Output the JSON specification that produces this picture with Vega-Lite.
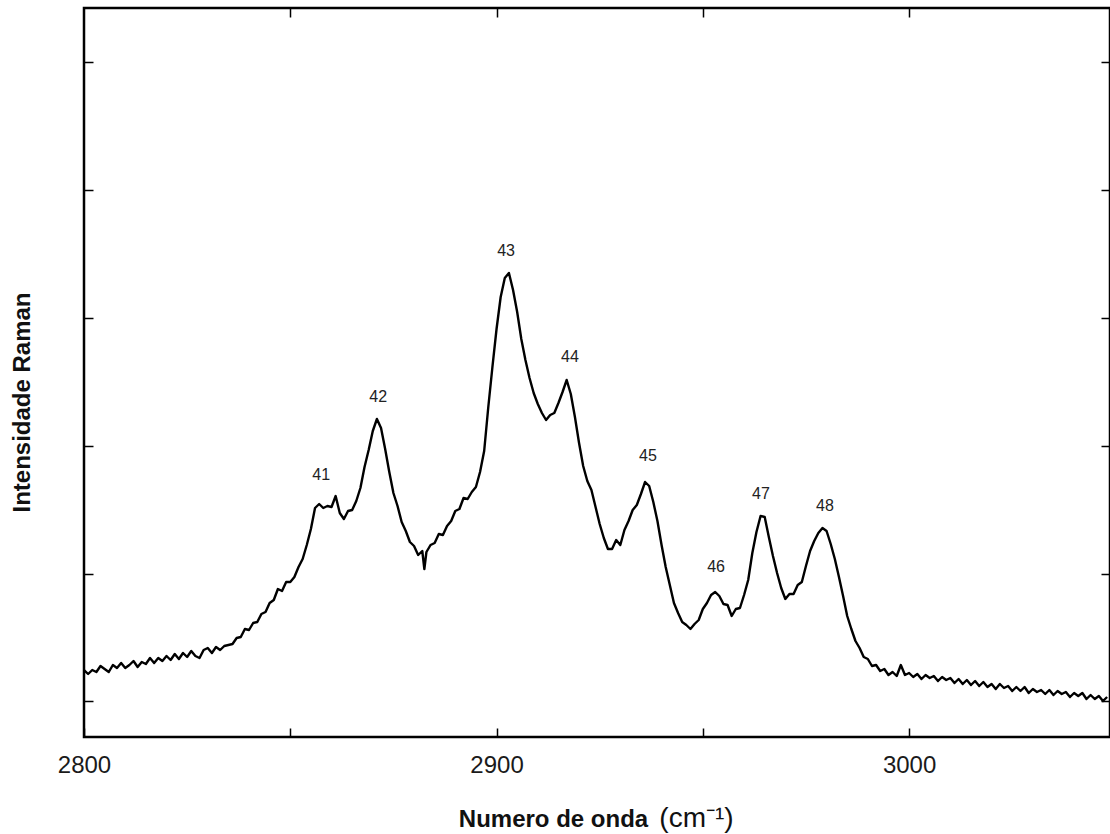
{
  "$schema": "https://vega.github.io/schema/vega-lite/v6.json",
  "width": 1026,
  "height": 729,
  "autosize": "none",
  "padding": {"left": 84, "top": 8, "right": 0, "bottom": 97},
  "background": "white",
  "config": {"view": {"stroke": "black", "strokeWidth": 2.5}, "font": "Liberation Sans"},
  "datasets": {
    "spec": [
      {"w":2800,"y":67},{"w":2801,"y":63},{"w":2802,"y":67},{"w":2803,"y":65},{"w":2804,"y":71},{"w":2805,"y":68},{"w":2806,"y":65},{"w":2807,"y":72},{"w":2808,"y":69},{"w":2809,"y":74},
      {"w":2810,"y":69},{"w":2811,"y":72},{"w":2812,"y":76},{"w":2813,"y":70},{"w":2814,"y":75},{"w":2815,"y":73},{"w":2816,"y":79},{"w":2817,"y":74},{"w":2818,"y":79},{"w":2819,"y":76},
      {"w":2820,"y":81},{"w":2821,"y":77},{"w":2822,"y":83},{"w":2823,"y":78},{"w":2824,"y":84},{"w":2825,"y":80},{"w":2826,"y":86},{"w":2827,"y":81},{"w":2828,"y":79},{"w":2829,"y":87},
      {"w":2830,"y":89},{"w":2831,"y":84},{"w":2832,"y":90},{"w":2833,"y":87},{"w":2834,"y":91},{"w":2835,"y":92},{"w":2836,"y":93},{"w":2837,"y":99},{"w":2838,"y":100},{"w":2839,"y":108},
      {"w":2840,"y":107},{"w":2841,"y":114},{"w":2842,"y":115},{"w":2843,"y":123},{"w":2844,"y":125},{"w":2845,"y":134},{"w":2846,"y":137},{"w":2847,"y":148},{"w":2848,"y":146},{"w":2849,"y":155},
      {"w":2850,"y":155},{"w":2851,"y":160},{"w":2852,"y":170},{"w":2853,"y":178},{"w":2854,"y":192},{"w":2855,"y":208},{"w":2856,"y":229},{"w":2857,"y":233},{"w":2858,"y":229},{"w":2859,"y":231},
      {"w":2860,"y":230},{"w":2861,"y":241},{"w":2862,"y":224},{"w":2863,"y":218},{"w":2864,"y":226},{"w":2865,"y":227},{"w":2866,"y":236},{"w":2867,"y":249},{"w":2868,"y":270},{"w":2869,"y":287},
      {"w":2870,"y":306},{"w":2871,"y":318},{"w":2872,"y":309},{"w":2873,"y":288},{"w":2874,"y":265},{"w":2875,"y":244},{"w":2876,"y":231},{"w":2877,"y":215},{"w":2878,"y":206},{"w":2879,"y":195},
      {"w":2880,"y":191},{"w":2881,"y":182},{"w":2882,"y":186},{"w":2882.5,"y":168},{"w":2883,"y":185},{"w":2884,"y":192},{"w":2885,"y":194},{"w":2886,"y":203},{"w":2887,"y":202},{"w":2888,"y":211},{"w":2889,"y":216},
      {"w":2890,"y":226},{"w":2891,"y":228},{"w":2892,"y":239},{"w":2893,"y":238},{"w":2894,"y":245},{"w":2895,"y":250},{"w":2896,"y":265},{"w":2897,"y":286},{"w":2898,"y":330},{"w":2899,"y":370},
      {"w":2900,"y":408},{"w":2901,"y":440},{"w":2902,"y":459},{"w":2903,"y":464},{"w":2904,"y":447},{"w":2905,"y":425},{"w":2906,"y":398},{"w":2907,"y":377},{"w":2908,"y":359},{"w":2909,"y":344},
      {"w":2910,"y":333},{"w":2911,"y":324},{"w":2912,"y":317},{"w":2913,"y":322},{"w":2914,"y":324},{"w":2915,"y":334},{"w":2916,"y":345},{"w":2917,"y":357},{"w":2918,"y":343},{"w":2919,"y":320},
      {"w":2920,"y":294},{"w":2921,"y":271},{"w":2922,"y":256},{"w":2923,"y":247},{"w":2924,"y":230},{"w":2925,"y":213},{"w":2926,"y":199},{"w":2927,"y":188},{"w":2928,"y":188},{"w":2929,"y":197},
      {"w":2930,"y":192},{"w":2931,"y":207},{"w":2932,"y":216},{"w":2933,"y":227},{"w":2934,"y":232},{"w":2935,"y":243},{"w":2936,"y":255},{"w":2937,"y":251},{"w":2938,"y":235},{"w":2939,"y":216},
      {"w":2940,"y":192},{"w":2941,"y":170},{"w":2942,"y":152},{"w":2943,"y":134},{"w":2944,"y":124},{"w":2945,"y":115},{"w":2946,"y":112},{"w":2947,"y":108},{"w":2948,"y":113},{"w":2949,"y":117},
      {"w":2950,"y":128},{"w":2951,"y":134},{"w":2952,"y":142},{"w":2953,"y":145},{"w":2954,"y":141},{"w":2955,"y":133},{"w":2956,"y":132},{"w":2957,"y":121},{"w":2958,"y":128},{"w":2959,"y":129},
      {"w":2960,"y":142},{"w":2961,"y":157},{"w":2962,"y":184},{"w":2963,"y":205},{"w":2964,"y":221},{"w":2965,"y":220},{"w":2966,"y":200},{"w":2967,"y":181},{"w":2968,"y":164},{"w":2969,"y":149},
      {"w":2970,"y":138},{"w":2971,"y":143},{"w":2972,"y":143},{"w":2973,"y":152},{"w":2974,"y":155},{"w":2975,"y":171},{"w":2976,"y":186},{"w":2977,"y":196},{"w":2978,"y":204},{"w":2979,"y":209},
      {"w":2980,"y":206},{"w":2981,"y":193},{"w":2982,"y":178},{"w":2983,"y":160},{"w":2984,"y":141},{"w":2985,"y":121},{"w":2986,"y":108},{"w":2987,"y":96},{"w":2988,"y":89},{"w":2989,"y":80},
      {"w":2990,"y":78},{"w":2991,"y":71},{"w":2992,"y":72},{"w":2993,"y":66},{"w":2994,"y":68},{"w":2995,"y":62},{"w":2996,"y":65},{"w":2997,"y":61},{"w":2998,"y":72},{"w":2999,"y":62},
      {"w":3000,"y":64},{"w":3001,"y":60},{"w":3002,"y":63},{"w":3003,"y":58},{"w":3004,"y":62},{"w":3005,"y":59},{"w":3006,"y":61},{"w":3007,"y":56},{"w":3008,"y":60},{"w":3009,"y":57},
      {"w":3010,"y":59},{"w":3011,"y":54},{"w":3012,"y":58},{"w":3013,"y":53},{"w":3014,"y":57},{"w":3015,"y":52},{"w":3016,"y":56},{"w":3017,"y":51},{"w":3018,"y":55},{"w":3019,"y":50},
      {"w":3020,"y":53},{"w":3021,"y":48},{"w":3022,"y":53},{"w":3023,"y":49},{"w":3024,"y":51},{"w":3025,"y":46},{"w":3026,"y":50},{"w":3027,"y":46},{"w":3028,"y":50},{"w":3029,"y":44},
      {"w":3030,"y":48},{"w":3031,"y":45},{"w":3032,"y":47},{"w":3033,"y":43},{"w":3034,"y":47},{"w":3035,"y":42},{"w":3036,"y":46},{"w":3037,"y":43},{"w":3038,"y":45},{"w":3039,"y":40},
      {"w":3040,"y":44},{"w":3041,"y":41},{"w":3042,"y":44},{"w":3043,"y":38},{"w":3044,"y":42},{"w":3045,"y":38},{"w":3046,"y":41},{"w":3047,"y":36},{"w":3048,"y":40}
    ],
    "peaks": [
      {"w":2857.5,"y":262,"label":"41"},
      {"w":2871.3,"y":340,"label":"42"},
      {"w":2902.3,"y":486,"label":"43"},
      {"w":2917.8,"y":380,"label":"44"},
      {"w":2936.7,"y":281,"label":"45"},
      {"w":2953.2,"y":170,"label":"46"},
      {"w":2964.1,"y":243,"label":"47"},
      {"w":2979.6,"y":231,"label":"48"}
    ]
  },
  "layer": [
    {
      "data": {"name": "spec"},
      "mark": {"type": "line", "color": "black", "strokeWidth": 2.4, "strokeJoin": "round", "clip": true},
      "encoding": {
        "x": {
          "field": "w", "type": "quantitative",
          "scale": {"domain": [2800, 3048.7], "nice": false, "zero": false},
          "axis": {
            "orient": "bottom", "values": [2800, 2850, 2900, 2950, 3000], "format": "d",
            "labelExpr": "datum.value % 100 == 0 ? datum.label : ''",
            "tickSize": -9, "tickColor": "black", "tickWidth": 1.5, "domain": false, "grid": false,
            "labelFontSize": 24, "labelColor": "#1a1a1a", "labelPadding": 25, "labelFlush": false,
            "title": "Numero de onda", "titleFontSize": 24, "titleFontWeight": "bold", "titleColor": "#111",
            "titleX": 469, "titleY": 89, "titleAlign": "center", "titleBaseline": "alphabetic"
          }
        },
        "y": {
          "field": "y", "type": "quantitative",
          "scale": {"domain": [0, 729], "nice": false, "zero": false},
          "axis": {
            "orient": "left", "values": [36, 163, 291, 419, 547, 675], "labels": false,
            "tickSize": -9, "tickColor": "black", "tickWidth": 1.5, "domain": false, "grid": false,
            "title": "Intensidade Raman", "titleFontSize": 24, "titleFontWeight": "bold", "titleColor": "#111",
            "titleX": -62, "titleY": 394, "titleAlign": "center", "titleBaseline": "middle", "titleAngle": -90
          }
        }
      }
    },
    {
      "data": {"name": "peaks"},
      "mark": {"type": "text", "fontSize": 16, "color": "#222", "align": "center", "baseline": "middle"},
      "encoding": {
        "x": {
          "field": "w", "type": "quantitative",
          "scale": {"domain": [2800, 3048.7], "nice": false, "zero": false},
          "axis": {
            "orient": "top", "values": [2850, 2900, 2950, 3000], "labels": false,
            "tickSize": -9, "tickColor": "black", "tickWidth": 1.5, "domain": false, "grid": false,
            "title": "(cm⁻¹)", "titleFontSize": 28, "titleFontWeight": "normal", "titleColor": "#111",
            "titleX": 612, "titleY": 818, "titleAlign": "center", "titleBaseline": "alphabetic"
          }
        },
        "y": {
          "field": "y", "type": "quantitative",
          "scale": {"domain": [0, 729], "nice": false, "zero": false},
          "axis": {
            "orient": "right", "values": [36, 163, 291, 419, 547, 675], "labels": false,
            "tickSize": -9, "tickColor": "black", "tickWidth": 1.5, "domain": false, "grid": false, "title": null
          }
        },
        "text": {"field": "label"}
      }
    }
  ],
  "resolve": {"axis": {"x": "independent", "y": "independent"}}
}
